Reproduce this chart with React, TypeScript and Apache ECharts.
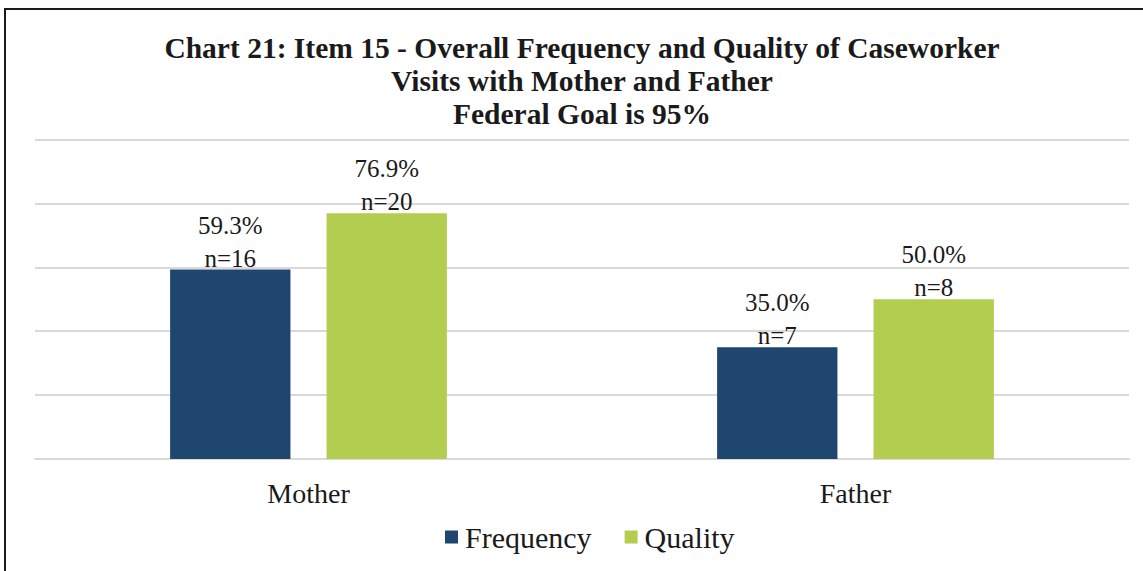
import React, { useEffect, useRef } from "react";
import * as echarts from "echarts";

const categories = ["Mother", "Father"];
const frequencyValues = [59.3, 35.0];
const frequencyN = [16, 7];
const qualityValues = [76.9, 50.0];
const qualityN = [20, 8];
const yTicks = [0, 20, 40, 60, 80, 100];

const titleText =
  "Chart 21: Item 15 - Overall Frequency and Quality of Caseworker\nVisits with Mother and Father\nFederal Goal is 95%";

const FONT = "Liberation Serif";

export default function App() {
  const ref = useRef<HTMLDivElement>(null);
  useEffect(() => {
    if (!ref.current) return;
    const chart = echarts.init(ref.current, undefined, { renderer: "svg" });
    const mkLabel = (ns: number[]) => ({
      show: true,
      position: "top",
      distance: -5,
      fontFamily: FONT,
      fontSize: 25,
      lineHeight: 33,
      color: "#1a1a1a",
      formatter: (p: any) => `${Number(p.value).toFixed(1)}%\nn=${ns[p.dataIndex]}`,
    });
    chart.setOption({
      animation: false,
      backgroundColor: "#ffffff",
      textStyle: { fontFamily: FONT },
      title: {
        text: titleText,
        left: 577,
        textAlign: "center",
        top: 26,
        textStyle: {
          fontFamily: FONT,
          fontWeight: 700,
          fontSize: 29.5,
          lineHeight: 33,
          color: "#1a1a1a",
        },
      },
      legend: {
        data: ["Frequency", "Quality"],
        left: 440,
        top: 517,
        itemWidth: 13,
        itemHeight: 13,
        itemGap: 33,
        icon: "rect",
        textStyle: { fontFamily: FONT, fontSize: 30, color: "#1a1a1a", padding: [0, 0, 0, 2] },
      },
      grid: { left: 35, right: 14, top: 139.5, bottom: 112 },
      xAxis: {
        type: "category",
        data: categories,
        axisLine: { lineStyle: { color: "#d9d9d9", width: 2 } },
        axisTick: { show: false },
        axisLabel: { fontFamily: FONT, fontSize: 28, color: "#1a1a1a", margin: 20 },
      },
      yAxis: {
        type: "value",
        min: yTicks[0],
        max: yTicks[yTicks.length - 1],
        interval: yTicks[1] - yTicks[0],
        axisLabel: { show: false },
        axisLine: { show: false },
        axisTick: { show: false },
        splitLine: { lineStyle: { color: "#d9d9d9", width: 2 } },
      },
      series: [
        {
          name: "Frequency",
          type: "bar",
          data: frequencyValues,
          barWidth: "22%",
          barGap: "30%",
          itemStyle: { color: "#1F466E" },
          label: mkLabel(frequencyN),
        },
        {
          name: "Quality",
          type: "bar",
          data: qualityValues,
          barWidth: "22%",
          barGap: "30%",
          itemStyle: { color: "#B2CD4F" },
          label: mkLabel(qualityN),
        },
      ],
      graphic: [
        {
          type: "line",
          shape: { x1: 4, y1: 9, x2: 1143, y2: 9 },
          style: { stroke: "#1a1a1a", lineWidth: 2 },
        },
        {
          type: "line",
          shape: { x1: 5, y1: 8, x2: 5, y2: 571 },
          style: { stroke: "#1a1a1a", lineWidth: 2 },
        },
      ],
    });
    return () => chart.dispose();
  }, []);
  return (
    <div
      ref={ref}
      style={{ position: "fixed", left: 0, top: 0, width: 1143, height: 571 }}
    />
  );
}
